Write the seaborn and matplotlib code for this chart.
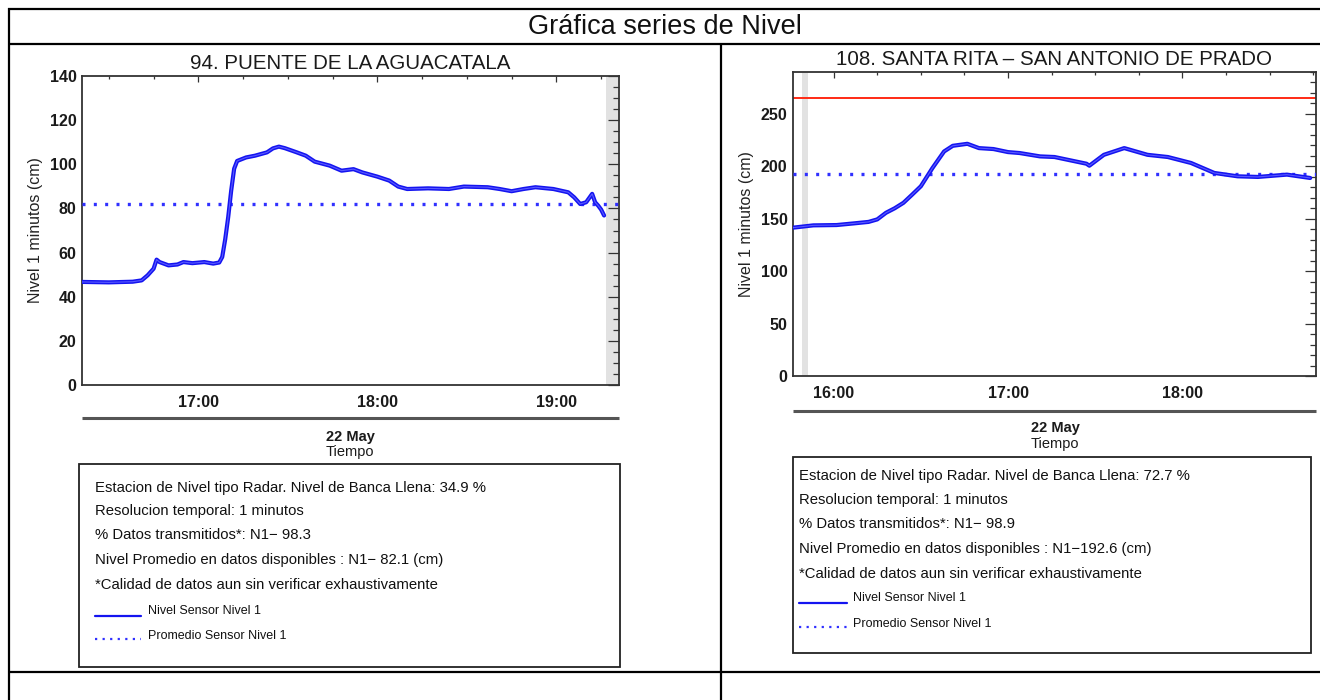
import numpy as np
import pandas as pd
import matplotlib
matplotlib.use("Agg")
import matplotlib.pyplot as plt
import matplotlib.dates as mdates
from matplotlib.lines import Line2D
from matplotlib.patches import Rectangle
import seaborn as sns

# ---------------- data ----------------
DAY = "2019-05-22"
fig_title = "Gráfica series de Nivel"

st1_title = "94. PUENTE DE LA AGUACATALA"
st1_times = ["16:21", "16:30", "16:38", "16:41", "16:43", "16:45", "16:46", "16:47",
             "16:50", "16:53", "16:55", "16:58", "17:02", "17:05", "17:07", "17:08",
             "17:09", "17:10", "17:11", "17:12", "17:13", "17:16", "17:19", "17:23",
             "17:25", "17:27", "17:29", "17:33", "17:36", "17:39", "17:44", "17:48",
             "17:52", "17:55", "18:00", "18:04", "18:07", "18:10", "18:17", "18:24",
             "18:29", "18:37", "18:41", "18:45", "18:49", "18:53", "18:59", "19:04",
             "19:06", "19:08", "19:10", "19:12", "19:13", "19:14", "19:15", "19:16"]
st1_level = [46.7, 46.5, 46.8, 47.4, 49.7, 52.7, 56.8, 55.7,
             54.2, 54.6, 55.7, 55.2, 55.7, 55.0, 55.5, 58.0,
             66.0, 76.0, 88.0, 98.0, 101.5, 103.1, 103.9, 105.4,
             107.2, 108.0, 107.3, 105.4, 103.9, 101.2, 99.4, 97.1,
             97.8, 96.3, 94.4, 92.6, 89.9, 88.8, 89.1, 88.8,
             89.9, 89.6, 88.8, 87.8, 88.8, 89.6, 88.8, 87.3,
             85.0, 82.0, 82.8, 86.6, 82.8, 81.3, 79.5, 76.8]
st1_mean = 82.1
st1_xlim = ("16:21", "19:21")
st1_band = ("19:16:30", "19:20:30")
st1_ylim = (0, 140)
st1_info = ["Estacion de Nivel tipo Radar. Nivel de Banca Llena: 34.9 %",
            "Resolucion temporal: 1 minutos",
            "% Datos transmitidos*: N1\u2212 98.3",
            "Nivel Promedio en datos disponibles : N1\u2212 82.1 (cm)",
            "*Calidad de datos aun sin verificar exhaustivamente"]

st2_title = "108. SANTA RITA \u2013 SAN ANTONIO DE PRADO"
st2_times = ["15:46", "15:53", "16:01", "16:07", "16:12", "16:15", "16:18", "16:21",
             "16:24", "16:27", "16:30", "16:34", "16:38", "16:41", "16:46", "16:50",
             "16:55", "17:00", "17:04", "17:11", "17:16", "17:27", "17:28", "17:33",
             "17:40", "17:48", "17:55", "18:03", "18:11", "18:19", "18:26", "18:36",
             "18:44"]
st2_level = [141.5, 143.7, 144.0, 145.6, 147.0, 149.4, 155.7, 160.0,
             165.2, 173.0, 181.0, 198.4, 214.2, 219.6, 221.5, 217.4,
             216.5, 213.6, 212.7, 209.5, 208.9, 202.5, 200.6, 211.0,
             217.4, 211.0, 208.9, 203.2, 193.7, 190.5, 189.9, 192.1,
             188.9]
st2_mean = 192.6
st2_bankfull = 265.0
st2_xlim = ("15:46", "18:46")
st2_band = ("15:49", "15:51")
st2_ylim = (0, 290)
st2_info = ["Estacion de Nivel tipo Radar. Nivel de Banca Llena: 72.7 %",
            "Resolucion temporal: 1 minutos",
            "% Datos transmitidos*: N1\u2212 98.9",
            "Nivel Promedio en datos disponibles : N1\u2212192.6 (cm)",
            "*Calidad de datos aun sin verificar exhaustivamente"]

legend_labels = ["Nivel Sensor Nivel 1", "Promedio Sensor Nivel 1"]
ylabel = "Nivel 1 minutos (cm)"
date_label = "22 May"
xlabel = "Tiempo"

# ---------------- style ----------------
sns.set_style("white")
plt.rcParams["font.family"] = ["Liberation Sans", "DejaVu Sans"]

W, H = 1320, 700
fig = plt.figure(figsize=(W / 100, H / 100), dpi=100)
fig.patch.set_facecolor("white")


def fx(x):
    return x / W


def fy(y):
    return 1 - y / H


def ts(t):
    return pd.Timestamp(f"{DAY} {t}")


def hline(x0, x1, y, lw=1.6, color="black"):
    fig.add_artist(Line2D([fx(x0), fx(x1)], [fy(y), fy(y)], transform=fig.transFigure,
                          color=color, lw=lw, solid_capstyle="butt"))


def vline(x, y0, y1, lw=1.6, color="black"):
    fig.add_artist(Line2D([fx(x), fx(x)], [fy(y0), fy(y1)], transform=fig.transFigure,
                          color=color, lw=lw, solid_capstyle="butt"))


# table frame
hline(8, 1320, 9)
hline(8, 1320, 44)
hline(8, 1320, 672)
vline(9, 8, 700)
vline(721, 44, 700)
fig.text(fx(665), fy(27), fig_title, ha="center", va="center", fontsize=19.5,
         color="#111111")

BLUE = "#1414f0"
DOT = "#3030ff"
RED = "#ff2a14"
SPINE = "#333333"


def panel(rect, times, level, mean, xlim, band, ylim, ymaj, ymin, title,
          bankfull=None):
    x0, x1, ytop, ybot = rect
    ax = fig.add_axes([fx(x0), fy(ybot), (x1 - x0) / W, (ybot - ytop) / H])
    df = pd.DataFrame({"t": [ts(t) for t in times], "v": level})
    ax.axvspan(ts(band[0]), ts(band[1]), color="#e2e2e2", lw=0, zorder=0)
    if bankfull is not None:
        ax.axhline(bankfull, color=RED, lw=1.4, zorder=2)
    ax.axhline(mean, color=DOT, lw=2.4, ls=(0, (0.9, 2.5)), zorder=3)
    sns.lineplot(data=df, x="t", y="v", ax=ax, color=BLUE, lw=3.0, zorder=4)
    sns.lineplot(data=df, x="t", y="v", ax=ax, color="#5a5aff", lw=0.8, zorder=5)
    ax.set_xlim(ts(xlim[0]), ts(xlim[1]))
    ax.set_ylim(*ylim)
    ax.set_xlabel("")
    ax.set_ylabel(ylabel, fontsize=11.5, color="#222222", labelpad=5)
    ax.xaxis.set_major_locator(mdates.HourLocator())
    ax.xaxis.set_minor_locator(mdates.MinuteLocator(byminute=[0, 15, 30, 45]))
    ax.xaxis.set_major_formatter(mdates.DateFormatter("%H:%M"))
    ax.yaxis.set_major_locator(matplotlib.ticker.MultipleLocator(ymaj))
    ax.yaxis.set_minor_locator(matplotlib.ticker.MultipleLocator(ymin))
    ax.tick_params(axis="both", which="both", direction="in", top=True, right=True,
                   colors=SPINE, width=0.9)
    ax.tick_params(axis="x", which="major", length=4.5, pad=7)
    ax.tick_params(axis="x", which="minor", length=2.2)
    ax.tick_params(axis="y", which="major", length=8, pad=4)
    ax.tick_params(axis="y", which="minor", length=4)
    for lab in ax.get_xticklabels() + ax.get_yticklabels():
        lab.set_fontsize(11.5)
        lab.set_fontweight("bold")
        lab.set_color("#1a1a1a")
    for s in ax.spines.values():
        s.set_color(SPINE)
        s.set_linewidth(1.3)
    ax.set_title(title, fontsize=14.8, pad=5, color="#1a1a1a")
    return ax


ax1 = panel((82, 619, 76, 385), st1_times, st1_level, st1_mean, st1_xlim, st1_band,
            st1_ylim, 20, 5, st1_title)
ax2 = panel((793, 1316, 72, 376), st2_times, st2_level, st2_mean, st2_xlim, st2_band,
            st2_ylim, 50, 10, st2_title, bankfull=st2_bankfull)

# date axis lines and labels
hline(82, 619, 418, lw=2.2, color="#555555")
hline(793, 1316, 411, lw=2.2, color="#555555")
fig.text(fx(350), fy(437), date_label, ha="center", va="center", fontsize=10.5,
         fontweight="bold", color="#1a1a1a")
fig.text(fx(350), fy(452), xlabel, ha="center", va="center", fontsize=10.5, color="#1a1a1a")
fig.text(fx(1055), fy(428), date_label, ha="center", va="center", fontsize=10.5,
         fontweight="bold", color="#1a1a1a")
fig.text(fx(1055), fy(444), xlabel, ha="center", va="center", fontsize=10.5, color="#1a1a1a")


def info_box(x0, x1, y0, y1, lines, ys, tx, lx0, lx1, ltx):
    fig.add_artist(Rectangle((fx(x0), fy(y1)), (x1 - x0) / W, (y1 - y0) / H,
                             transform=fig.transFigure, fill=False, ec="#222222", lw=1.3))
    for txt, y in zip(lines, ys[:5]):
        fig.text(fx(tx), fy(y), txt, ha="left", va="center", fontsize=10.7, color="#111111")
    # legend samples
    fig.add_artist(Line2D([fx(lx0), fx(lx1)], [fy(ys[5] + 5), fy(ys[5] + 5)],
                          transform=fig.transFigure, color=BLUE, lw=1.6))
    fig.add_artist(Line2D([fx(lx0), fx(lx1)], [fy(ys[6] + 3), fy(ys[6] + 3)],
                          transform=fig.transFigure, color=DOT, lw=1.6,
                          ls=(0, (1, 2.4))))
    fig.text(fx(ltx), fy(ys[5]), legend_labels[0], ha="left", va="center",
             fontsize=9, color="#111111")
    fig.text(fx(ltx), fy(ys[6]), legend_labels[1], ha="left", va="center",
             fontsize=9, color="#111111")


info_box(79, 620, 464, 667, st1_info, [488, 511, 535, 560, 585, 611, 636], 95, 95, 141, 148)
info_box(793, 1311, 457, 653, st2_info, [476, 500, 524, 549, 574, 598, 624], 799, 799, 847, 853)

fig.savefig("out.png", dpi=100, facecolor="white")
